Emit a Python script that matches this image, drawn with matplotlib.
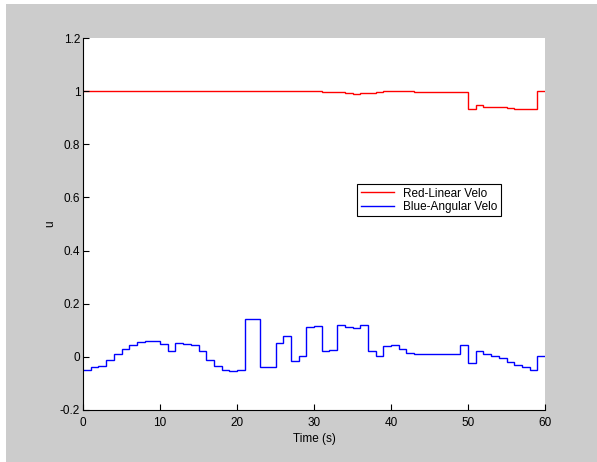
import matplotlib
matplotlib.use("Agg")
import matplotlib.pyplot as plt
import numpy as np
from matplotlib.patches import Rectangle

plt.rcParams['font.family'] = ['Liberation Sans', 'DejaVu Sans']

# one value per second, 0..60 s
time_edges = list(range(0, 61))

linear_velo = [1.0] * 31 + [
    0.997, 0.997, 0.997, 0.993, 0.988, 0.992, 0.992, 0.997, 1.0, 1.0,
    1.0, 1.0, 0.998, 0.998, 0.998, 0.998, 0.998, 0.998, 0.998, 0.933,
    0.946, 0.942, 0.942, 0.939, 0.937, 0.934, 0.934, 0.932, 1.0]

angular_velo = [
    -0.048, -0.040, -0.034, -0.010, 0.0125, 0.029, 0.044, 0.056, 0.061, 0.061,
    0.048, 0.021, 0.053, 0.048, 0.043, 0.021, -0.010, -0.034, -0.048, -0.053,
    -0.050, 0.142, 0.142, -0.040, -0.040, 0.054, 0.080, -0.015, 0.0025, 0.112,
    0.117, 0.021, 0.026, 0.119, 0.113, 0.109, 0.119, 0.021, 0.0025, 0.041,
    0.045, 0.028, 0.015, 0.009, 0.009, 0.009, 0.009, 0.009, 0.009, 0.045,
    -0.024, 0.021, 0.0125, 0.004, -0.006, -0.018, -0.030, -0.040, -0.050, 0.005]

fig = plt.figure(figsize=(5.97, 4.62), dpi=100, facecolor='white')
# grey panel like a matlab figure window
fig.patches.append(Rectangle((6 / 597, 0), 1, 1 - 4 / 462, transform=fig.transFigure,
                             facecolor='#cccccc', edgecolor='none', zorder=-1))

ax = fig.add_axes([83 / 597, 1 - 410 / 462, (545 - 83) / 597, (410 - 38) / 462])
ax.set_facecolor('white')

ax.stairs(linear_velo, time_edges, color='red', lw=1.0, label='Red-Linear Velo', baseline=None)
ax.stairs(angular_velo, time_edges, color='blue', lw=1.0, label='Blue-Angular Velo', baseline=None)

ax.set_xlim(0, 60)
ax.set_ylim(-0.2, 1.2)
ax.set_xticks(np.arange(0, 61, 10))
ax.set_yticks(np.arange(-0.2, 1.21, 0.2))
ax.set_yticklabels(['-0.2', '0', '0.2', '0.4', '0.6', '0.8', '1', '1.2'])
ax.tick_params(direction='in', length=4, width=0.8, labelsize=8.5, pad=2)
ax.tick_params(axis='x', pad=5)
ax.spines['top'].set_visible(False)
ax.spines['right'].set_visible(False)
ax.set_xlabel('Time (s)', fontsize=8.5, labelpad=3)
ax.set_ylabel('u', fontsize=8.5, labelpad=3)

leg = ax.legend(loc='upper left', bbox_to_anchor=((357 - 83) / 462, (410 - 184) / 372),
                fontsize=8.5, frameon=True, fancybox=False, framealpha=1,
                edgecolor='black', borderpad=0.3, labelspacing=0.1,
                handlelength=2.8, handletextpad=0.8, borderaxespad=0)
leg.get_frame().set_linewidth(0.8)

fig.savefig('out.png', dpi=100, facecolor=fig.get_facecolor())
